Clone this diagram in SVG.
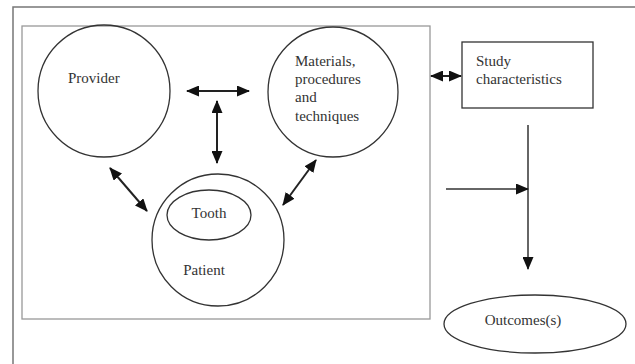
<svg xmlns="http://www.w3.org/2000/svg" width="635" height="364" viewBox="0 0 635 364">
<style>
.n{fill:none;stroke:#333;stroke-width:1.3}
.t{font-family:"Liberation Serif",serif;font-size:15px;fill:#333}
.c{stroke:#222;stroke-width:2;fill:none}
</style>
<defs>
<marker id="ah" viewBox="0 0 13 11" refX="12" refY="5.5" markerWidth="13" markerHeight="11" markerUnits="userSpaceOnUse" orient="auto-start-reverse">
<path d="M0,0 L13,5.5 L0,11 z" fill="#111"/>
</marker>
</defs>
<rect width="635" height="364" fill="#fff"/>
<rect x="13" y="7" width="640" height="380" fill="none" stroke="#777" stroke-width="1.5"/>
<rect x="22" y="26" width="408" height="293" fill="none" stroke="#999" stroke-width="1.3"/>
<g id="provider"><circle class="n" cx="104" cy="91" r="66"/><text class="t" x="68" y="83">Provider</text></g>
<g id="materials"><circle class="n" cx="333" cy="92" r="65"/>
<text class="t" x="295" y="66">Materials,</text><text class="t" x="295" y="84">procedures</text><text class="t" x="295" y="102">and</text><text class="t" x="295" y="121">techniques</text></g>
<g id="patient"><circle class="n" cx="218" cy="240" r="66"/><text class="t" x="204" y="275" text-anchor="middle">Patient</text></g>
<g id="tooth"><ellipse class="n" cx="209" cy="215" rx="42" ry="25"/><text class="t" x="209" y="218" text-anchor="middle">Tooth</text></g>
<g id="study"><rect class="n" x="462" y="42" width="131" height="66"/><text class="t" x="476" y="66">Study</text><text class="t" x="476" y="84">characteristics</text></g>
<g id="outcomes"><ellipse class="n" cx="535" cy="324" rx="91" ry="29"/><text class="t" x="523" y="325" text-anchor="middle">Outcomes(s)</text></g>
<g id="connectors">
<line class="c" x1="187" y1="91" x2="249" y2="91" marker-start="url(#ah)" marker-end="url(#ah)"/>
<line class="c" x1="217" y1="101" x2="217" y2="163" marker-start="url(#ah)" marker-end="url(#ah)"/>
<line class="c" x1="110" y1="168" x2="147" y2="211" marker-start="url(#ah)" marker-end="url(#ah)"/>
<line class="c" x1="283" y1="205" x2="316" y2="160" marker-start="url(#ah)" marker-end="url(#ah)"/>
<line class="c" x1="431" y1="76" x2="461" y2="76" marker-start="url(#ah)" marker-end="url(#ah)"/>
<line x1="528" y1="125" x2="528" y2="269" stroke="#333" stroke-width="1.5" marker-end="url(#ah)"/>
<line x1="446" y1="189" x2="528" y2="189" stroke="#333" stroke-width="1.5" marker-end="url(#ah)"/>
</g>
</svg>
